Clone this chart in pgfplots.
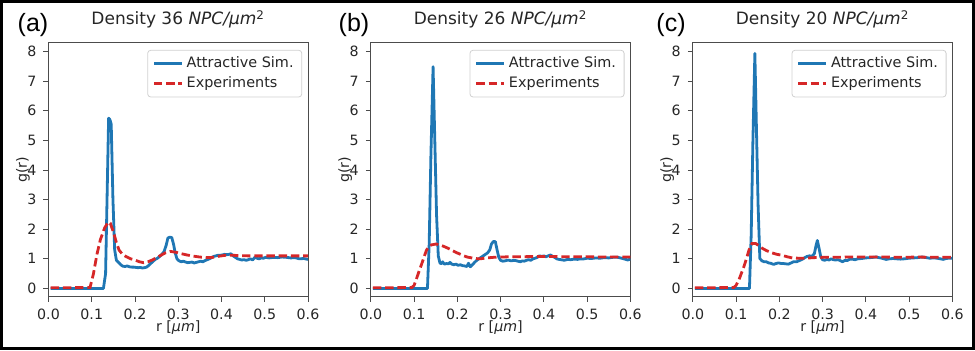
\documentclass[border=0pt]{standalone}
\usepackage{pgfplots}
\pgfplotsset{compat=1.18}
\usepackage{fontspec}
\setmainfont{DejaVu Sans}
\newfontfamily\arialfont{Liberation Sans}
\definecolor{cblue}{RGB}{31,119,180}
\definecolor{cred}{RGB}{214,39,40}
\pgfplotsset{
  gr/.style={
    scale only axis, width=129.75pt, height=127pt, anchor=south west,
    xmin=0, xmax=0.6, ymin=-0.28, ymax=8.3,
    xtick={0,0.1,0.2,0.3,0.4,0.5,0.6},
    xticklabels={0.0,0.1,0.2,0.3,0.4,0.5,0.6},
    ytick={0,1,2,3,4,5,6,7,8},
    yticklabels={0,1,2,3,4,5,6,7,8},
    /pgf/number format/assume math mode=true,
    tick align=outside, xtick pos=bottom, ytick pos=left, major tick length=2.5pt,
    axis line style={black!70, line width=0.45pt},
    tick style={black!70, line width=0.45pt},
    ticklabel style={font=\fontsize{7.1}{8}\selectfont, text=black!85},
    xlabel={r [\textit{μm}]}, ylabel={g(r)},
    label style={font=\fontsize{7.1}{8}\selectfont, text=black!85},
    xlabel style={at={(axis description cs:0.5,0)}, anchor=base, yshift=-17.6pt},
    ylabel style={at={(axis description cs:0,0.5)}, anchor=center, yshift=12.75pt},
    title style={font=\fontsize{8.5}{10}\selectfont, text=black!85, at={(axis description cs:0.5,1)}, anchor=base, yshift=3pt},
    legend cell align=left,
    legend image code/.code={\draw[#1] (0pt,0pt) -- (14pt,0pt);},
    legend style={at={(axis description cs:1,1)}, anchor=north east, xshift=-2.9pt, yshift=-3.6pt,
      draw=black!18, rounded corners=1.5pt, fill=white,
      font=\fontsize{7.2}{8}\selectfont, inner xsep=2.5pt, inner ysep=1.5pt, row sep=0pt,
      nodes={inner sep=1.6pt, text=black!85}},
  },
  sim/.style={cblue, line width=1.4pt, line join=round},
  exp/.style={cred, line width=1.4pt, dash pattern=on 4.2pt off 1.9pt},
}
\begin{document}
\begin{tikzpicture}
\useasboundingbox (0,0) rectangle (487.5pt,175pt);
\draw[line width=1.5pt] (0.75pt,0.75pt) rectangle (486.75pt,174.25pt);

\begin{axis}[gr, at={(24.25pt,26.65pt)}, title={Density 36 \textit{NPC/μm}\textsuperscript{2}}]
\addplot[sim] coordinates {(0.005,0) (0.127,0) (0.132,0.5) (0.136,3.5) (0.139,5.75) (0.142,5.70) (0.145,5.55) (0.149,3.0) (0.153,1.3) (0.157,0.95) (0.162,0.88) (0.167,0.80) (0.172,0.75) (0.177,0.74) (0.182,0.76) (0.187,0.73) (0.192,0.72) (0.197,0.72) (0.202,0.71) (0.207,0.70) (0.212,0.71) (0.217,0.69) (0.222,0.70) (0.227,0.72) (0.232,0.78) (0.237,0.85) (0.242,0.92) (0.247,0.98) (0.252,1.02) (0.257,1.08) (0.262,1.15) (0.267,1.24) (0.272,1.45) (0.276,1.70) (0.280,1.73) (0.285,1.72) (0.289,1.50) (0.293,1.20) (0.297,1.00) (0.302,0.93) (0.307,0.90) (0.312,0.92) (0.317,0.89) (0.322,0.87) (0.327,0.88) (0.332,0.89) (0.337,0.86) (0.342,0.88) (0.347,0.90) (0.352,0.92) (0.357,0.90) (0.362,0.94) (0.367,0.97) (0.372,1.00) (0.377,1.04) (0.382,1.08) (0.387,1.10) (0.392,1.12) (0.397,1.12) (0.402,1.13) (0.407,1.15) (0.412,1.14) (0.417,1.15) (0.422,1.17) (0.427,1.10) (0.432,1.05) (0.437,1.00) (0.442,0.98) (0.447,0.96) (0.452,0.97) (0.457,0.95) (0.462,0.97) (0.467,1.00) (0.472,0.96) (0.477,1.05) (0.482,1.02) (0.487,1.00) (0.492,1.03) (0.497,1.02) (0.502,1.05) (0.51,1.03) (0.52,1.05) (0.53,1.04) (0.54,1.06) (0.55,1.05) (0.56,1.03) (0.57,1.04) (0.58,1.00) (0.59,1.01) (0.60,0.98)};
\addlegendentry{Attractive Sim.}
\addplot[exp] coordinates {(0.005,0.02) (0.096,0.03) (0.104,0.5) (0.112,1.15) (0.12,1.65) (0.13,2.05) (0.138,2.24) (0.143,2.2) (0.151,1.86) (0.157,1.55) (0.163,1.3) (0.171,1.15) (0.18,1.07) (0.19,1.0) (0.2,0.96) (0.21,0.9) (0.22,0.87) (0.23,0.9) (0.24,0.96) (0.25,1.04) (0.26,1.12) (0.27,1.2) (0.282,1.25) (0.295,1.22) (0.305,1.18) (0.32,1.13) (0.335,1.09) (0.35,1.06) (0.365,1.04) (0.38,1.05) (0.395,1.09) (0.41,1.12) (0.425,1.12) (0.44,1.11) (0.46,1.1) (0.48,1.1) (0.5,1.1) (0.53,1.1) (0.56,1.1) (0.6,1.1)};
\addlegendentry{Experiments}
\end{axis}

\begin{axis}[gr, at={(185.4pt,26.65pt)}, title={Density 26 \textit{NPC/μm}\textsuperscript{2}}]
\addplot[sim] coordinates {(0.005,0) (0.131,0) (0.135,1.5) (0.139,4.5) (0.144,7.49) (0.148,5.0) (0.152,2.5) (0.156,1.1) (0.16,0.85) (0.164,0.84) (0.166,0.9) (0.17,0.82) (0.175,0.84) (0.18,0.83) (0.183,0.88) (0.187,0.82) (0.192,0.8) (0.197,0.82) (0.202,0.78) (0.207,0.8) (0.212,0.77) (0.217,0.76) (0.222,0.74) (0.226,0.85) (0.23,0.73) (0.235,0.8) (0.24,0.88) (0.245,0.95) (0.25,1.0) (0.255,1.05) (0.26,1.1) (0.265,1.15) (0.27,1.2) (0.275,1.3) (0.279,1.5) (0.283,1.58) (0.288,1.58) (0.292,1.3) (0.296,1.05) (0.3,0.95) (0.305,0.92) (0.31,0.93) (0.315,0.95) (0.32,0.95) (0.325,0.93) (0.33,0.95) (0.335,0.94) (0.34,0.92) (0.346,0.9) (0.35,0.93) (0.355,0.92) (0.36,0.95) (0.365,0.97) (0.37,0.95) (0.375,1.0) (0.38,1.02) (0.385,1.05) (0.39,1.1) (0.395,1.08) (0.4,1.1) (0.405,1.07) (0.41,1.1) (0.416,1.13) (0.42,1.08) (0.425,1.05) (0.43,1.0) (0.435,0.98) (0.44,0.97) (0.447,0.95) (0.455,0.98) (0.462,0.97) (0.47,0.99) (0.478,0.98) (0.485,1.0) (0.49,0.99) (0.5,1.02) (0.51,1.01) (0.52,1.03) (0.53,1.02) (0.54,1.04) (0.55,1.03) (0.56,1.05) (0.571,1.05) (0.58,1.02) (0.585,1.0) (0.594,0.96) (0.6,0.99)};
\addlegendentry{Attractive Sim.}
\addplot[exp] coordinates {(0.005,0.02) (0.095,0.03) (0.1,0.1) (0.106,0.34) (0.112,0.6) (0.118,0.84) (0.124,1.1) (0.129,1.3) (0.135,1.42) (0.14,1.47) (0.151,1.5) (0.16,1.47) (0.167,1.43) (0.175,1.38) (0.182,1.33) (0.19,1.27) (0.198,1.21) (0.206,1.16) (0.215,1.1) (0.223,1.06) (0.23,1.04) (0.24,1.01) (0.253,1.0) (0.268,1.03) (0.284,1.05) (0.3,1.06) (0.323,1.07) (0.35,1.07) (0.38,1.08) (0.41,1.08) (0.44,1.07) (0.47,1.07) (0.5,1.07) (0.53,1.06) (0.56,1.06) (0.6,1.06)};
\addlegendentry{Experiments}
\end{axis}

\begin{axis}[gr, at={(346.4pt,26.65pt)}, title={Density 20 \textit{NPC/μm}\textsuperscript{2}}]
\addplot[sim] coordinates {(0.005,0) (0.131,0) (0.135,1.8) (0.139,5.0) (0.1435,7.94) (0.147,5.5) (0.151,2.8) (0.155,1.01) (0.16,0.93) (0.165,0.9) (0.17,0.9) (0.1755,0.86) (0.18,0.85) (0.187,0.81) (0.192,0.84) (0.198,0.86) (0.205,0.84) (0.21,0.84) (0.215,0.83) (0.221,0.82) (0.227,0.86) (0.233,0.9) (0.24,0.9) (0.248,0.95) (0.255,1.0) (0.26,1.05) (0.264,1.08) (0.27,1.1) (0.275,1.08) (0.281,1.17) (0.285,1.45) (0.288,1.62) (0.292,1.35) (0.296,1.06) (0.3,0.97) (0.305,0.95) (0.31,0.98) (0.315,0.96) (0.32,1.0) (0.325,0.97) (0.33,0.96) (0.335,0.97) (0.3395,0.95) (0.346,0.9) (0.352,0.95) (0.357,0.94) (0.362,0.98) (0.368,0.99) (0.375,0.97) (0.382,1.0) (0.39,1.01) (0.4,1.03) (0.41,1.04) (0.418,1.05) (0.424,1.06) (0.43,1.04) (0.437,1.02) (0.447,0.98) (0.455,1.0) (0.463,1.01) (0.471,1.0) (0.48,0.99) (0.49,1.0) (0.5,1.02) (0.51,1.03) (0.52,1.04) (0.53,1.06) (0.54,1.04) (0.548,1.02) (0.556,1.03) (0.565,1.02) (0.572,1.0) (0.579,0.98) (0.585,1.01) (0.592,1.02) (0.6,1.02)};
\addlegendentry{Attractive Sim.}
\addplot[exp] coordinates {(0.005,0.02) (0.095,0.03) (0.1,0.1) (0.107,0.3) (0.112,0.5) (0.118,0.73) (0.124,1.0) (0.13,1.3) (0.137,1.52) (0.145,1.52) (0.152,1.45) (0.16,1.36) (0.17,1.28) (0.183,1.2) (0.195,1.15) (0.206,1.12) (0.218,1.07) (0.23,1.03) (0.245,1.02) (0.26,1.02) (0.28,1.04) (0.3,1.05) (0.33,1.05) (0.36,1.06) (0.4,1.06) (0.44,1.06) (0.48,1.05) (0.52,1.06) (0.56,1.05) (0.6,1.05)};
\addlegendentry{Experiments}
\end{axis}

\node[font=\arialfont\fontsize{12.5}{14}\selectfont, inner sep=0pt, anchor=center] at (16.5pt,162.5pt) {(a)};
\node[font=\arialfont\fontsize{12.5}{14}\selectfont, inner sep=0pt, anchor=center] at (177pt,162.5pt) {(b)};
\node[font=\arialfont\fontsize{12.5}{14}\selectfont, inner sep=0pt, anchor=center] at (335.5pt,162.5pt) {(c)};
\end{tikzpicture}
\end{document}
